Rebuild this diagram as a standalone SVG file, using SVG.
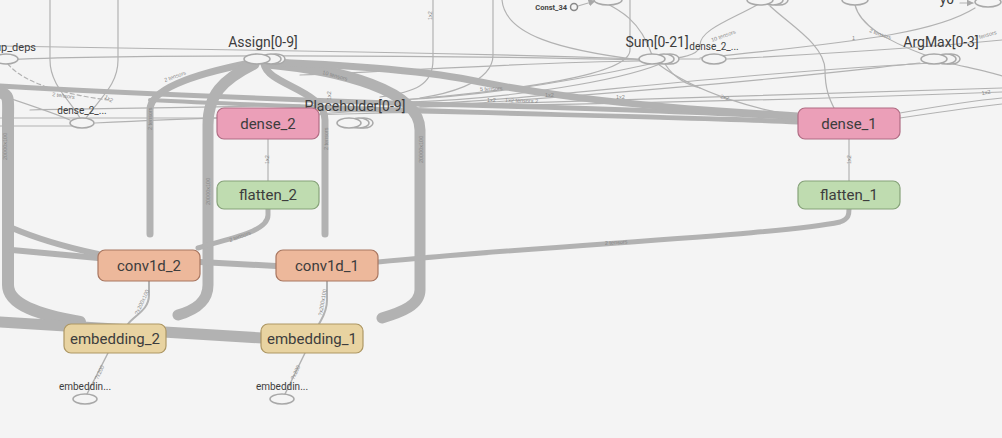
<svg xmlns="http://www.w3.org/2000/svg" width="1002" height="438" viewBox="0 0 1002 438">
<style>
.bg{fill:#f4f4f4}
.e{fill:none;stroke:#b2b2b2;stroke-linecap:round}
.t{stroke-width:1.2}
.d{stroke-dasharray:4 3}
.op{fill:#f4f4f4;stroke:#a8a8a8;stroke-width:1.5}
.nl{font-family:Roboto,"Liberation Sans",sans-serif;font-size:15px;fill:#3d3d3d;text-anchor:middle}
.ol{font-family:Roboto,"Liberation Sans",sans-serif;font-size:14px;fill:#3d3d3d;text-anchor:middle}
.sl{font-family:Roboto,"Liberation Sans",sans-serif;font-size:10px;fill:#3d3d3d;text-anchor:middle}
.el{font-family:"Liberation Sans",sans-serif;font-size:5.5px;fill:#888}
.dense rect{fill:#eb9fb8;stroke:#b06d84;stroke-width:1.2}
.flat rect{fill:#bfdcb0;stroke:#86a279;stroke-width:1.2}
.conv rect{fill:#edb89b;stroke:#a87660;stroke-width:1.2}
.emb rect{fill:#e8d3a1;stroke:#ad9764;stroke-width:1.2}
</style>
<defs>
<marker id="ar" viewBox="0 0 10 10" refX="9" refY="5" markerWidth="6" markerHeight="6" orient="auto"><path d="M0,0 L10,5 L0,10 z" fill="#a8a8a8"/></marker>
</defs>
<rect class="bg" x="0" y="0" width="1002" height="438"/>

<g id="connectors">
<path class="e t" d="M0,46 L360,52 C480,54 580,57 640,59"/>
<path class="e t" d="M0,60 C100,55 400,54 640,60"/>
<path class="e t" d="M300,75 C420,70 540,62 640,61"/>
<path class="e t" d="M50,0 L50,60 C50,85 70,100 80,118"/>
<path class="e t" d="M118,0 L118,60 C118,85 100,98 86,118"/>
<path class="e t d" d="M8,64 C25,85 70,95 108,100"/>
<path class="e t" d="M0,95 C30,105 60,115 70,120"/>
<path class="e t" d="M95,123 C200,118 300,115 420,112"/>
<path class="e t" d="M30,110 C120,108 200,108 300,105"/>
<path class="e t" d="M433,0 L433,60 C433,85 415,92 380,97"/>
<path class="e t" d="M493,0 L493,55 C493,85 440,95 420,98"/>
<path class="e t" d="M502,0 C505,35 560,50 640,60"/>
<path class="e t" d="M630,0 L630,50 C630,75 520,90 400,100"/>
<path class="e t" d="M400,100 C500,95 600,75 650,64"/>
<path class="e t" d="M410,102 C520,98 620,80 660,64"/>
<path class="e t" d="M420,104 C540,100 700,75 950,62"/>
<path class="e t" d="M420,106 C600,100 800,95 1002,88"/>
<path class="e t" d="M420,107 C600,104 800,100 1002,92"/>
<path class="e t" d="M658,64 C700,95 760,110 798,116"/>
<path class="e t" d="M665,64 C675,80 690,85 700,88"/>
<path class="e t" d="M665,59 L700,59"/>
<path class="e t" d="M727,59 C800,55 900,50 1002,40"/>
<path class="e t" d="M757,5 C730,20 700,30 700,45 C700,55 680,58 668,59"/>
<path class="e t" d="M770,6 C790,25 825,45 825,70 C825,90 830,100 834,108"/>
<path class="e t" d="M855,5 C860,25 885,40 925,55"/>
<path class="e t" d="M975,8 C940,30 880,40 700,58"/>
<path class="e t" d="M600,0 C620,10 640,20 652,55"/>
<path class="e t" d="M945,62 C970,68 990,72 1002,76"/>
<path class="e t" d="M900,113 C940,106 980,100 1002,98"/>
<path class="e t" d="M900,118 C940,112 980,106 1002,104"/>
<path class="e t" d="M920,63 C850,70 700,90 300,115"/>
<path class="e t" d="M0,118 L217,118"/>
<path class="e t" d="M0,126 L82,126"/>
<path class="e" style="stroke-width:1.2" d="M578,6 L595,1" marker-end="url(#ar)"/>
<path class="e" style="stroke-width:1.2" d="M960,3 L973,3" marker-end="url(#ar)"/>

<path class="e" style="stroke-width:5" d="M0,86 C100,92 300,100 420,104 C600,108 750,114 798,118"/>
<path class="e" style="stroke-width:4" d="M150,100 C300,108 600,115 798,121"/>
<path class="e" style="stroke-width:3" d="M330,110 C500,114 700,118 798,123"/>

<path class="e" style="stroke-width:7" d="M250,63 C190,75 150,90 150,110 L150,234"/>
<path class="e" style="stroke-width:11" d="M254,64 C222,80 208,95 208,125 L208,285 C208,302 195,310 178,315"/>
<path class="e" style="stroke-width:7" d="M264,64 C268,85 325,90 325,120 L325,234"/>
<path class="e" style="stroke-width:11" d="M268,63 C340,70 420,90 420,130 L420,290 C420,305 402,312 382,318"/>
<path class="e" style="stroke-width:7" d="M270,62 C330,64 420,70 470,80 C520,90 600,105 798,116"/>

<path class="e" style="stroke-width:12" d="M0,92 C10,95 8,100 8,120 L8,285 C8,305 40,315 80,322"/>
<path class="e" style="stroke-width:11" d="M0,322 L262,338"/>
<path class="e" style="stroke-width:6" d="M12,228 C40,240 70,248 98,254"/>
<path class="e" style="stroke-width:6" d="M12,250 L98,258"/>
<path class="e" style="stroke-width:6" d="M200,262 L276,266"/>

<path class="e" style="stroke-width:5" d="M268,209 L268,215 C268,232 230,238 198,248"/>
<path class="e" style="stroke-width:5" d="M378,262 C550,245 780,235 840,222 C849,219 849,214 849,209"/>

<path class="e t" d="M268,139 L268,181"/>
<path class="e t" d="M849,139 L849,181"/>

<path class="e" style="stroke-width:2" d="M149,281 L149,295 C149,310 135,315 128,324"/>
<path class="e" style="stroke-width:2" d="M327,281 L327,300 C327,312 322,318 319,324"/>
<path class="e" style="stroke-width:1.5" d="M108,353 L87,394"/>
<path class="e" style="stroke-width:1.5" d="M305,353 L285,394"/>

<text class="el" transform="translate(52,96) rotate(8)">2 tensors</text>
<text class="el" transform="translate(165,82) rotate(-20)">2 tensors</text>
<text class="el" transform="translate(322,74) rotate(15)">10 tensors</text>
<text class="el" transform="translate(480,91) rotate(-2)">5 tensors</text>
<text class="el" transform="translate(487,102)">1x2</text>
<text class="el" transform="translate(505,102) rotate(2)">1x2 tensors 2</text>
<text class="el" transform="translate(545,97)">1x2</text>
<text class="el" transform="translate(616,99)">1x2</text>
<text class="el" transform="translate(720,98) rotate(15)">2x2</text>
<text class="el" transform="translate(982,95) rotate(-10)">1x2</text>
<text class="el" transform="translate(712,42) rotate(-20)">10 tensors</text>
<text class="el" transform="translate(869,32) rotate(20)">2 tensors</text>
<text class="el" transform="translate(975,40) rotate(-15)">2 tensors</text>
<text class="el" transform="translate(852,40)">1</text>
<text class="el" transform="translate(331,100) rotate(-90)">1x2</text>
<text class="el" transform="translate(104,98) rotate(30)">1x2</text>
<text class="el" transform="translate(7,160) rotate(-90)">20000x100</text>
<text class="el" transform="translate(210,205) rotate(-90)">20000x100</text>
<text class="el" transform="translate(423,163) rotate(-90)">20000x100</text>
<text class="el" transform="translate(152,130) rotate(-90)">2 tensors</text>
<text class="el" transform="translate(328,150) rotate(-90)">2 tensors</text>
<text class="el" transform="translate(230,242) rotate(-20)">2 tensors</text>
<text class="el" transform="translate(605,245) rotate(-4)">2 tensors</text>
<text class="el" transform="translate(269,164) rotate(-90)">1x2</text>
<text class="el" transform="translate(851,164) rotate(-90)">1x2</text>
<text class="el" transform="translate(138,315) rotate(-65)">?x200x100</text>
<text class="el" transform="translate(322,316) rotate(-80)">?x200x100</text>
<text class="el" transform="translate(98,380) rotate(-65)">?x200</text>
<text class="el" transform="translate(294,380) rotate(-65)">?x200</text>
<text class="el" transform="translate(432,20) rotate(-90)">1x2</text>
</g>

<g id="group_deps">
<ellipse class="op" cx="6" cy="59" rx="12" ry="5"/>
<text class="sl" x="36" y="51" style="text-anchor:end;font-size:11px">group_deps</text>
</g>
<g id="dense_2_left">
<ellipse class="op" cx="82" cy="123" rx="12" ry="5"/>
<text class="sl" x="82" y="114">dense_2_...</text>
</g>
<g id="Assign">
<ellipse class="op" cx="276" cy="59" rx="9" ry="5"/>
<ellipse class="op" cx="271" cy="59" rx="10" ry="5"/>
<ellipse class="op" cx="257" cy="59" rx="13" ry="5"/>
<text class="ol" x="263" y="47">Assign[0-9]</text>
</g>
<g id="Placeholder">
<ellipse class="op" cx="364" cy="123" rx="9" ry="5"/>
<ellipse class="op" cx="359" cy="123" rx="10" ry="5"/>
<ellipse class="op" cx="349" cy="123" rx="12" ry="5"/>
<text class="ol" x="355" y="111">Placeholder[0-9]</text>
</g>
<g id="Const_34">
<circle cx="574" cy="7" r="3.5" fill="#f4f4f4" stroke="#888" stroke-width="1.5"/>
<text x="567" y="10" style="font-family:Roboto,'Liberation Sans',sans-serif;font-size:7.5px;font-weight:bold;fill:#444;text-anchor:end">Const_34</text>
</g>
<g id="top_ops">
<ellipse class="op" cx="608" cy="0" rx="14" ry="5"/>
<ellipse class="op" cx="779" cy="0" rx="9" ry="5"/>
<ellipse class="op" cx="773" cy="0" rx="10" ry="5"/>
<ellipse class="op" cx="760" cy="0" rx="13" ry="5"/>
<ellipse class="op" cx="855" cy="0" rx="13" ry="5"/>
<ellipse class="op" cx="988" cy="2" rx="13" ry="5"/>
<text class="ol" x="947" y="4">y0</text>
</g>
<g id="Sum">
<ellipse class="op" cx="670" cy="59" rx="9" ry="5"/>
<ellipse class="op" cx="664" cy="59" rx="10" ry="5"/>
<ellipse class="op" cx="652" cy="59" rx="13" ry="5"/>
<text class="ol" x="657" y="47">Sum[0-21]</text>
</g>
<g id="dense_2_right">
<ellipse class="op" cx="714" cy="59" rx="12" ry="5"/>
<text class="sl" x="714" y="50">dense_2_...</text>
</g>
<g id="ArgMax">
<ellipse class="op" cx="951" cy="59" rx="9" ry="5"/>
<ellipse class="op" cx="946" cy="59" rx="10" ry="5"/>
<ellipse class="op" cx="934" cy="59" rx="13" ry="5"/>
<text class="ol" x="941" y="47">ArgMax[0-3]</text>
</g>

<g id="dense_2" class="dense"><rect x="217" y="108" width="102" height="31" rx="7"/><text class="nl" x="268" y="129">dense_2</text></g>
<g id="flatten_2" class="flat"><rect x="217" y="181" width="102" height="28" rx="7"/><text class="nl" x="268" y="200">flatten_2</text></g>
<g id="dense_1" class="dense"><rect x="798" y="108" width="102" height="31" rx="7"/><text class="nl" x="849" y="129">dense_1</text></g>
<g id="flatten_1" class="flat"><rect x="798" y="181" width="102" height="28" rx="7"/><text class="nl" x="849" y="200">flatten_1</text></g>
<g id="conv1d_2" class="conv"><rect x="98" y="250" width="102" height="31" rx="7"/><text class="nl" x="149" y="271">conv1d_2</text></g>
<g id="conv1d_1" class="conv"><rect x="276" y="250" width="102" height="31" rx="7"/><text class="nl" x="327" y="271">conv1d_1</text></g>
<g id="embedding_2" class="emb"><rect x="64" y="324" width="102" height="29" rx="7"/><text class="nl" x="115" y="344">embedding_2</text></g>
<g id="embedding_1" class="emb"><rect x="261" y="324" width="102" height="29" rx="7"/><text class="nl" x="312" y="344">embedding_1</text></g>
<g id="embeddings_2"><ellipse class="op" cx="85" cy="399" rx="12" ry="5"/><text class="sl" x="85" y="390">embeddin...</text></g>
<g id="embeddings_1"><ellipse class="op" cx="282" cy="399" rx="12" ry="5"/><text class="sl" x="282" y="390">embeddin...</text></g>
</svg>
